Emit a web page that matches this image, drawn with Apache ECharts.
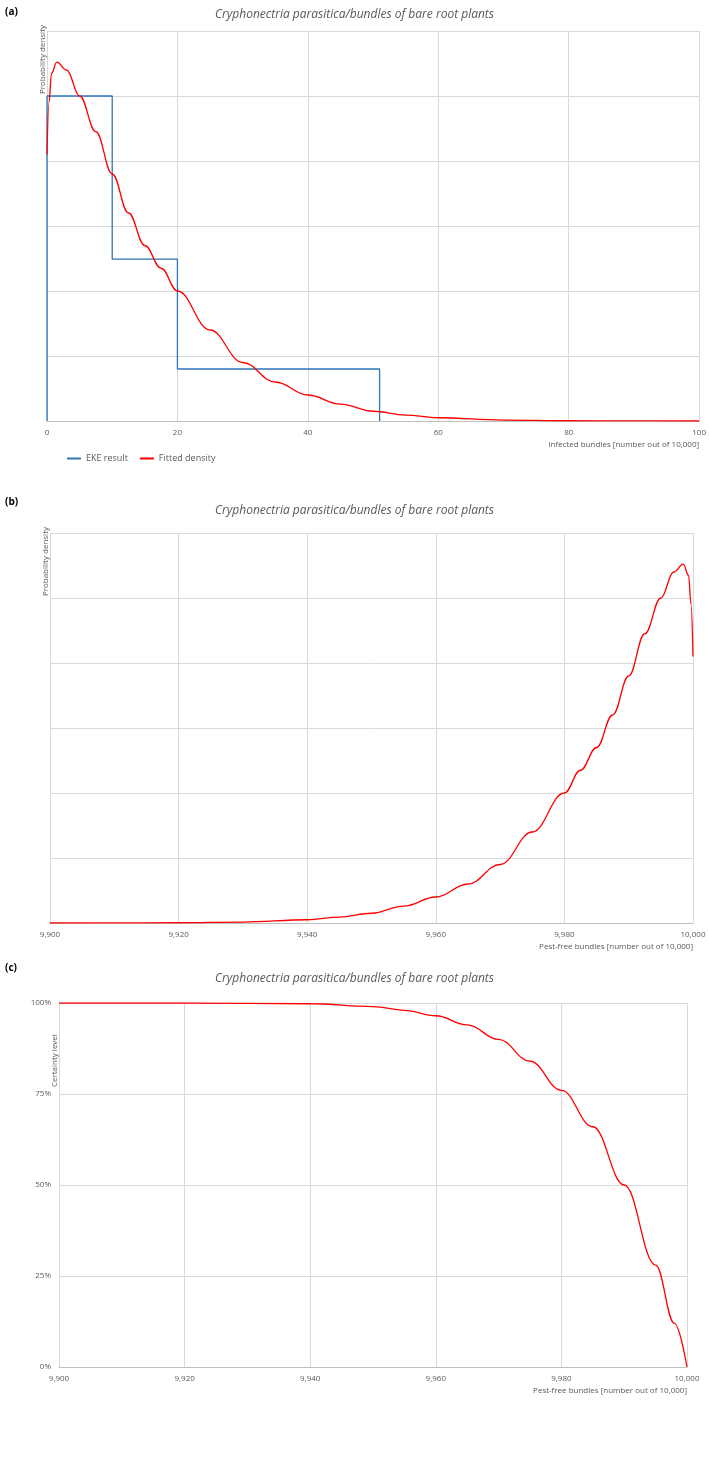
<!DOCTYPE html><html><head><meta charset="utf-8"><script src="https://cdn.jsdelivr.net/npm/echarts@6/dist/echarts.min.js"></script>
<style>html,body{margin:0;padding:0;background:#fff}#c{width:709px;height:1458px}</style></head><body><div id="c"></div><script>
const ekeEdges=[0,10,20,51];
const ekeDens=[5,2.49,0.8];
const fitX=[0,0.3,0.7,1.5,3,5,7.5,10,12.5,15,17.5,20,25,30,35,40,45,50,55,60,70,80,90,100];
const fitY=[4.1,4.9,5.35,5.52,5.4,5.0,4.45,3.8,3.2,2.7,2.35,2.0,1.4,0.9,0.6,0.4,0.26,0.15,0.09,0.05,0.015,0.004,0.001,0];
const cdfX=[9900,9920,9940,9950,9955,9960,9965,9970,9975,9980,9985,9990,9995,9998,10000];
const cdfY=[100,100,99.8,99,98,96.5,94,90,84,76,66,50,28,12,0];
const title='Cryphonectria parasitica/bundles of bare root plants';
const F='"Open Sans",sans-serif';
const eke=[[ekeEdges[0],0]];
for(let i=0;i<ekeDens.length;i++){eke.push([ekeEdges[i],ekeDens[i]],[ekeEdges[i+1],ekeDens[i]]);}
eke.push([ekeEdges[ekeEdges.length-1],0]);
const fitA=fitX.map((x,i)=>[x,fitY[i]]);
const fitB=fitX.map((x,i)=>[10000-x,fitY[i]]);
const cdf=cdfX.map((x,i)=>[x,cdfY[i]]);
const grids=[{left:47,top:31,width:655,height:390},{left:50,top:533,width:643,height:390},{left:59,top:1003,width:628,height:364}];
const split={show:true,lineStyle:{color:'#d9d9d9'}};
const lab={fontSize:8,color:'#595959',fontFamily:F};
const fmt=v=>v.toLocaleString('en-US');
function xa(i,min,max,interval,name){return {type:'value',gridIndex:i,min,max,interval,name,nameLocation:'end',nameGap:0,
 nameTextStyle:{fontSize:8,color:'#595959',fontFamily:F,align:'right',verticalAlign:'top',padding:[20,0,0,0]},
 axisLine:{lineStyle:{color:'#bfbfbf'}},axisTick:{show:false},splitLine:split,axisLabel:Object.assign({formatter:fmt,margin:8},lab)};}
function ya(i,max,interval,name,showLab,gap){return {type:'value',gridIndex:i,min:0,max,interval,name,nameLocation:'end',nameRotate:90,nameGap:gap,
 nameTextStyle:{fontSize:8,color:'#595959',fontFamily:F,align:'right',verticalAlign:'bottom'},
 axisLine:{show:false},axisTick:{show:false},splitLine:split,axisLabel:Object.assign({show:showLab,formatter:v=>v+'%'},lab)};}
const ch=echarts.init(document.getElementById('c'));
const sm={smooth:0.4,smoothMonotone:'x',showSymbol:false};
ch.setOption({animation:false,
 title:[
  {text:title,left:'center',top:4,textStyle:{fontSize:12,fontStyle:'italic',fontWeight:'normal',color:'#595959',fontFamily:F}},
  {text:title,left:'center',top:500,textStyle:{fontSize:12,fontStyle:'italic',fontWeight:'normal',color:'#595959',fontFamily:F}},
  {text:title,left:'center',top:968,textStyle:{fontSize:12,fontStyle:'italic',fontWeight:'normal',color:'#595959',fontFamily:F}},
  {text:'(a)',left:0,top:2,textStyle:{fontSize:10,fontWeight:'bold',color:'#000',fontFamily:F}},
  {text:'(b)',left:0,top:492,textStyle:{fontSize:10,fontWeight:'bold',color:'#000',fontFamily:F}},
  {text:'(c)',left:0,top:958,textStyle:{fontSize:10,fontWeight:'bold',color:'#000',fontFamily:F}}],
 legend:{left:62,top:449,itemWidth:14,itemHeight:2,itemGap:12,textStyle:{fontSize:9,color:'#595959',fontFamily:F},data:['EKE result','Fitted density'],icon:'rect'},
 grid:grids,
 xAxis:[xa(0,0,100,20,'Infected bundles [number out of 10,000]'),xa(1,9900,10000,20,'Pest-free bundles [number out of 10,000]'),xa(2,9900,10000,20,'Pest-free bundles [number out of 10,000]')],
 yAxis:[ya(0,6,1,'Probability density',false,6),ya(1,6,1,'Probability density',false,6),ya(2,100,25,'Certainty level',true,-50)],
 series:[
  {name:'EKE result',type:'line',xAxisIndex:0,yAxisIndex:0,data:eke,showSymbol:false,lineStyle:{color:'#2e75b6',width:1.3},itemStyle:{color:'#2e75b6'}},
  Object.assign({name:'Fitted density',type:'line',xAxisIndex:0,yAxisIndex:0,data:fitA,lineStyle:{color:'#ff0000',width:1.3},itemStyle:{color:'#ff0000'}},sm),
  Object.assign({type:'line',xAxisIndex:1,yAxisIndex:1,data:fitB,lineStyle:{color:'#ff0000',width:1.3}},sm),
  Object.assign({type:'line',xAxisIndex:2,yAxisIndex:2,data:cdf,lineStyle:{color:'#ff0000',width:1.3}},sm)]
});
</script></body></html>
